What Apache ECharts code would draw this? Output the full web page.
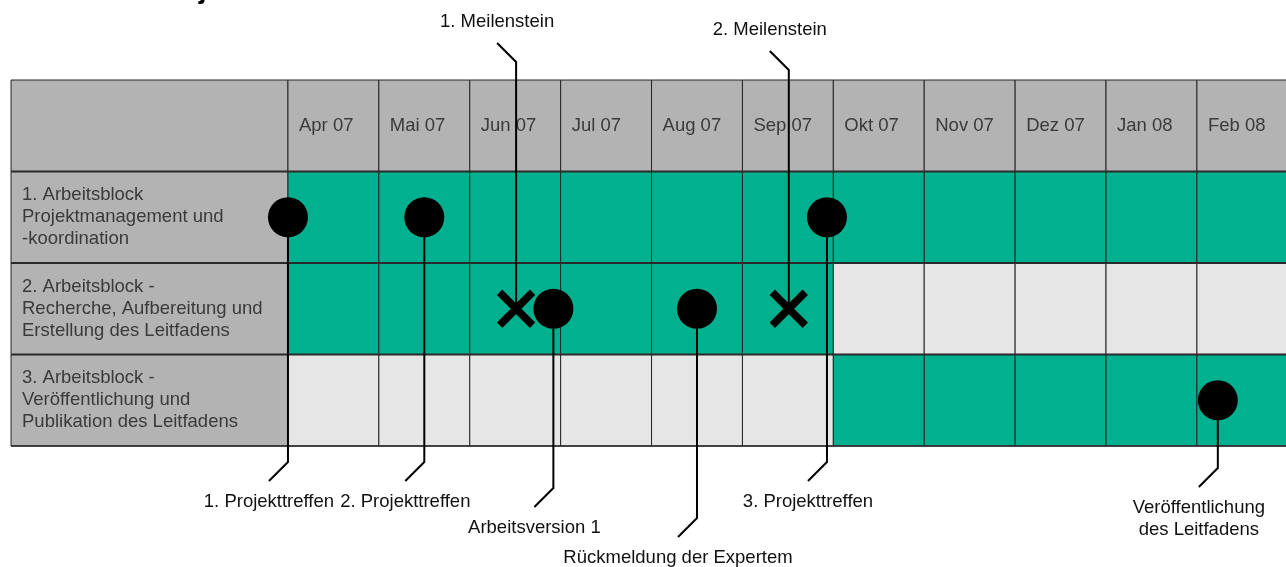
<!DOCTYPE html>
<html>
<head>
<meta charset="utf-8">
<script src="https://cdn.jsdelivr.net/npm/echarts@6/dist/echarts.min.js"></script>
<style>
  html, body { margin: 0; padding: 0; background: #ffffff; }
  #chart { width: 1286px; height: 567px; }
</style>
</head>
<body>
<div id="chart"></div>
<script>
// ---- Schedule data ----
const months = ['Apr 07', 'Mai 07', 'Jun 07', 'Jul 07', 'Aug 07', 'Sep 07',
                'Okt 07', 'Nov 07', 'Dez 07', 'Jan 08', 'Feb 08'];

const blocks = [
  '1. Arbeitsblock\nProjektmanagement und\n-koordination',
  '2. Arbeitsblock -\nRecherche, Aufbereitung und\nErstellung des Leitfadens',
  '3. Arbeitsblock -\nVeröffentlichung und\nPublikation des Leitfadens'
];

// active months of each work block (first and last month index, inclusive)
const blockStart = [0, 0, 6];
const blockEnd   = [10, 5, 10];

// events (drawn as dots), position in months from the start of April 2007
const eventNames  = ['1. Projekttreffen', '2. Projekttreffen', '3. Projekttreffen',
                     'Arbeitsversion 1', 'Rückmeldung der Expertem',
                     'Veröffentlichung\ndes Leitfadens'];
const eventMonths = [0.0, 1.5, 5.93, 2.92, 4.5, 10.23];
const eventBlocks = [0, 0, 0, 1, 1, 2];

// milestones (drawn as crosses)
const milestoneNames  = ['1. Meilenstein', '2. Meilenstein'];
const milestoneMonths = [2.51, 5.51];
const milestoneBlocks = [1, 1];

// ---- Layout ----
const labelColWidth = 3.047;                 // width of the label column, in months
const eventDrop     = [16, 16, 16, 42, 72, 22]; // px below the table where callouts bend
const milestoneRise = [18, 10];                 // px above the table where callouts bend

const TEAL = '#00b08f';
const GREY_HEAD = '#b3b3b3';
const GREY_IDLE = '#e6e6e6';
const FONT = '"Liberation Sans", Arial, sans-serif';

// ---- Build table cells ----
const cells = [];
cells.push({ x0: -labelColWidth, x1: 0, row: 0, fill: GREY_HEAD, text: '' });
months.forEach((m, i) => cells.push({ x0: i, x1: i + 1, row: 0, fill: GREY_HEAD, text: m }));
blocks.forEach((b, r) => {
  cells.push({ x0: -labelColWidth, x1: 0, row: r + 1, fill: GREY_HEAD, text: b });
  months.forEach((m, i) => {
    const active = i >= blockStart[r] && i <= blockEnd[r];
    cells.push({ x0: i, x1: i + 1, row: r + 1, fill: active ? TEAL : GREY_IDLE, text: '' });
  });
});

const chart = echarts.init(document.getElementById('chart'), null, { renderer: 'canvas' });

const option = {
  animation: false,
  backgroundColor: '#ffffff',
  grid: { left: 11, right: 0, top: 80, bottom: 121 },
  xAxis: { type: 'value', min: -labelColWidth, max: 10.98, show: false },
  yAxis: { type: 'value', min: 0, max: 4, inverse: true, show: false },
  graphic: [{
    type: 'text', left: 152, top: -24, silent: true,
    style: { text: 'Projektablauf', font: 'bold 28px ' + FONT, fill: '#000' }
  }],
  series: [
    {
      // table body
      type: 'custom',
      z: 1,
      clip: false,
      data: cells.map(c => [c.x0, c.row, c.x1]),
      renderItem: (params, api) => {
        const c = cells[params.dataIndex];
        const p0 = api.coord([api.value(0), api.value(1)]);
        const p1 = api.coord([api.value(2), api.value(1) + 1]);
        const children = [{
          type: 'rect',
          shape: { x: p0[0], y: p0[1], width: p1[0] - p0[0], height: p1[1] - p0[1] },
          style: { fill: c.fill, stroke: '#262626', lineWidth: 1 }
        }];
        if (c.text) {
          children.push({
            type: 'text',
            x: p0[0] + 11,
            y: (p0[1] + p1[1]) / 2,
            style: {
              text: c.text, fill: '#3a3a3a', font: '18.5px ' + FONT,
              align: 'left', verticalAlign: 'middle', lineHeight: 22
            }
          });
        }
        return { type: 'group', children };
      }
    },
    {
      // heavier row separators
      type: 'custom',
      z: 2,
      clip: false,
      data: [[1], [2], [3], [4]],
      renderItem: (params, api) => {
        const a = api.coord([-labelColWidth, api.value(0)]);
        const b = api.coord([10.98, api.value(0)]);
        return {
          type: 'line',
          shape: { x1: a[0], y1: a[1], x2: b[0], y2: b[1] },
          style: { stroke: '#2a2a2a', lineWidth: api.value(0) === 4 ? 1.5 : 2 }
        };
      }
    },
    {
      // event callouts (leader line + label below the table)
      type: 'custom',
      z: 3,
      clip: false,
      data: eventMonths.map((m, i) => [m, eventBlocks[i] + 1.5]),
      renderItem: (params, api) => {
        const i = params.dataIndex;
        const p = api.coord([api.value(0), api.value(1)]);
        const bottom = api.coord([0, 4])[1];
        const ey = bottom + eventDrop[i];
        const end = [p[0] - 19, ey + 19];
        return {
          type: 'group',
          children: [{
            type: 'polyline',
            shape: { points: [p, [p[0], ey], end] },
            style: { stroke: '#000', lineWidth: 2, fill: null }
          }, {
            type: 'text',
            x: end[0], y: end[1] + 10,
            style: {
              text: eventNames[i], fill: '#111', font: '18.5px ' + FONT,
              align: 'center', verticalAlign: 'top', lineHeight: 22
            }
          }]
        };
      }
    },
    {
      // milestone callouts (leader line + label above the table)
      type: 'custom',
      z: 3,
      clip: false,
      data: milestoneMonths.map((m, i) => [m, milestoneBlocks[i] + 1.5]),
      renderItem: (params, api) => {
        const i = params.dataIndex;
        const p = api.coord([api.value(0), api.value(1)]);
        const top = api.coord([0, 0])[1];
        const ey = top - milestoneRise[i];
        const end = [p[0] - 19, ey - 19];
        return {
          type: 'group',
          children: [{
            type: 'polyline',
            shape: { points: [p, [p[0], ey], end] },
            style: { stroke: '#000', lineWidth: 2, fill: null }
          }, {
            type: 'text',
            x: end[0], y: end[1] - 10,
            style: {
              text: milestoneNames[i], fill: '#111', font: '18.5px ' + FONT,
              align: 'center', verticalAlign: 'bottom', lineHeight: 22
            }
          }]
        };
      }
    },
    {
      // event dots
      type: 'scatter',
      z: 4,
      symbol: 'circle',
      symbolSize: 40,
      itemStyle: { color: '#000', opacity: 1 },
      data: eventMonths.map((m, i) => [m, eventBlocks[i] + 1.5])
    },
    {
      // milestone crosses
      type: 'custom',
      z: 4,
      clip: false,
      data: milestoneMonths.map((m, i) => [m, milestoneBlocks[i] + 1.5]),
      renderItem: (params, api) => {
        const p = api.coord([api.value(0), api.value(1)]);
        const h = 16.5;
        const st = { stroke: '#000', lineWidth: 7.5, lineCap: 'butt' };
        return {
          type: 'group',
          children: [
            { type: 'line', shape: { x1: p[0] - h, y1: p[1] - h, x2: p[0] + h, y2: p[1] + h }, style: st },
            { type: 'line', shape: { x1: p[0] - h, y1: p[1] + h, x2: p[0] + h, y2: p[1] - h }, style: st }
          ]
        };
      }
    }
  ]
};

chart.setOption(option);
</script>
</body>
</html>
